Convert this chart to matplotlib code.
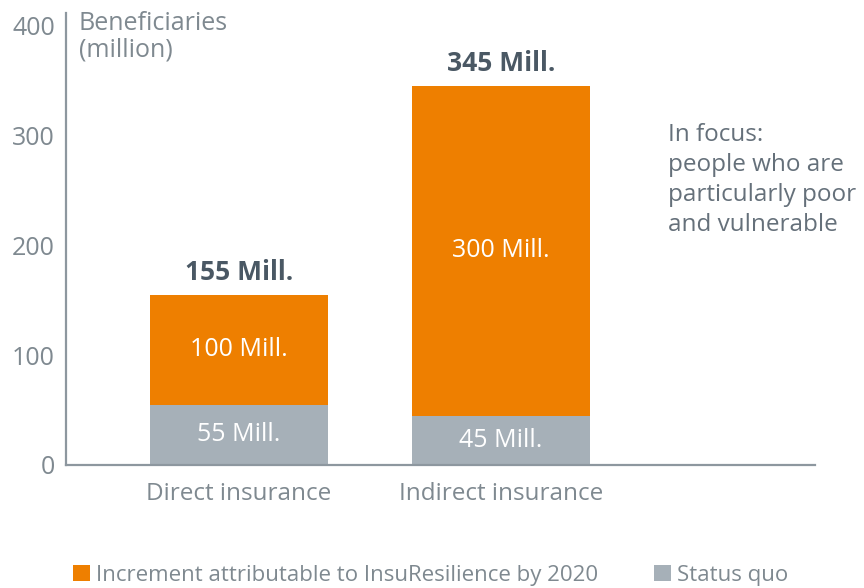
import matplotlib
matplotlib.use("Agg")
import matplotlib.pyplot as plt
from matplotlib.patches import Patch

categories = ["Direct insurance", "Indirect insurance"]
status_quo = [55, 45]
increment = [100, 300]
totals = [s + i for s, i in zip(status_quo, increment)]
yticks = [0, 100, 200, 300, 400]
legend_labels = ["Increment attributable to InsuResilience by 2020", "Status quo"]

ORANGE = "#EE7F00"
GRAY = "#A6B0B8"
AXIS = "#8D979F"
TEXT = "#7F8990"
DARK = "#4A5864"

plt.rcParams['font.family'] = ['Open Sans', 'DejaVu Sans']

fig = plt.figure(figsize=(8.64, 5.88), dpi=100)
ax = fig.add_axes([66/864, 1-465/588, (815-66)/864, (465-13)/588])

x = list(range(len(categories)))
w = 0.68
ax.bar(x, status_quo, width=w, color=GRAY, linewidth=0)
ax.bar(x, increment, bottom=status_quo, width=w, color=ORANGE, linewidth=0)

for xi, s, inc, t in zip(x, status_quo, increment, totals):
    ax.text(xi, s/2, f"{s} Mill.", ha="center", va="center", color="white", fontsize=18)
    ax.text(xi, s + inc/2, f"{inc} Mill.", ha="center", va="center", color="white", fontsize=18)
    ax.text(xi, t + 8, f"{t} Mill.", ha="center", va="bottom", color=DARK, fontsize=19, fontweight="bold")

ax.set_xlim(-0.66, 2.198)
ax.set_ylim(0, 411)
ax.set_yticks(yticks)
ax.set_xticks(x)
ax.set_xticklabels(categories)
ax.tick_params(axis="both", length=0, colors=TEXT)
ax.tick_params(axis="y", pad=8, labelsize=18)
ax.tick_params(axis="x", pad=12, labelsize=17.5)
for side in ["top", "right"]:
    ax.spines[side].set_visible(False)
for side in ["left", "bottom"]:
    ax.spines[side].set_color(AXIS)
    ax.spines[side].set_linewidth(1.6)

ax.text(0.017, 1.005, "Beneficiaries\n(million)", transform=ax.transAxes, ha="left", va="top",
        color=TEXT, fontsize=18, linespacing=1.1)

ax.text(668/864, 1-123/588, "In focus:\npeople who are\nparticularly poor\nand vulnerable",
        transform=fig.transFigure, ha="left", va="top", color="#65707A", fontsize=17.5, linespacing=1.33)

handles = [Patch(facecolor=ORANGE, edgecolor="none"), Patch(facecolor=GRAY, edgecolor="none")]
fig.legend(handles, legend_labels, loc="center left", bbox_to_anchor=(64/864, 1-575/588),
           ncol=2, frameon=False, fontsize=16, handlelength=0.75, handleheight=0.75,
           handletextpad=0.3, columnspacing=2.5, labelcolor=TEXT, borderaxespad=0)

fig.savefig("out.png", dpi=100)
